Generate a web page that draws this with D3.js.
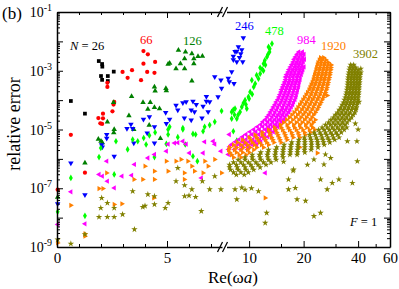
<!DOCTYPE html>
<html>
<head>
<meta charset="utf-8">
<script src="https://cdn.jsdelivr.net/npm/d3@7"></script>
<style>
body { margin: 0; background: #fff; }
text { font-family: "Liberation Serif", "Times New Roman", serif; }
</style>
</head>
<body>
<script>
// each point: [Re(wa), log10(relative error)]
var n26 = [[0.63,-4.03],[1.27,-4.46],[1.90,-2.67],[2.05,-2.77],[2.06,-2.86],[2.00,-3.18],
  [2.05,-3.31],[2.31,-3.18],[2.31,-3.35],[2.58,-3.03]];

var n66 = [[0.03,-7.05],[0.63,-5.18],[1.27,-6.47],[1.88,-4.61],[1.97,-4.79],[2.05,-4.81],
  [2.09,-4.62],[2.09,-4.46],[2.52,-4.38],[2.57,-4.15],[2.60,-4.06],[2.29,-3.41],[2.29,-3.55],
  [2.98,-3.04],[3.21,-3.24],[3.41,-2.98],[3.82,-3.32],[3.93,-2.76],[3.93,-2.33],[4.13,-2.44],
  [4.10,-3.04],[4.43,-3.07],[4.46,-2.70]];

var n126 = [[5.52,-2.30],[5.84,-2.36],[6.13,-2.42],[6.41,-2.51],[6.61,-2.50],[5.80,-2.59],
  [6.22,-2.59],[5.61,-2.76],[6.22,-2.76],[5.41,-2.93],[5.80,-2.93],[6.13,-3.35],[5.05,-2.78],
  [5.12,-2.74],[4.43,-3.55],[4.46,-3.69],[4.95,-3.60],[4.97,-3.68],[3.39,-3.87],[3.91,-4.08],
  [4.24,-4.08],[4.43,-4.25],[4.66,-4.29],[4.13,-4.31],[2.57,-4.08],[3.27,-4.53],[2.29,-4.74],
  [4.19,-4.85],[4.70,-5.30],[1.88,-5.33],[2.58,-5.11],[2.00,-5.40],[2.06,-5.45],[1.27,-6.14],
  [0.03,-7.30],[3.49,-5.00],[2.60,-5.00]];

var n246 = [[9.29,-1.88],[8.72,-2.19],[8.55,-2.34],[8.99,-2.42],[8.18,-2.51],[8.85,-2.55],
  [9.22,-2.70],[8.55,-2.70],[8.01,-3.04],[7.77,-3.38],[8.25,-3.44],[7.17,-3.21],[7.45,-3.32],
  [7.32,-3.89],[6.94,-4.06],[6.79,-4.04],[6.64,-4.21],[6.18,-4.04],[6.33,-4.15],[6.10,-4.34],
  [5.87,-4.06],[5.72,-4.09],[5.41,-4.18],[5.49,-4.34],[5.79,-4.61],[6.25,-4.40],[6.10,-4.68],
  [6.59,-4.61],[6.87,-4.40],[4.94,-4.42],[5.12,-4.65],[4.97,-4.80],[3.93,-4.65],[4.20,-4.57],
  [4.43,-4.91],[3.36,-4.82],[3.44,-4.97],[3.18,-4.97],[2.26,-5.17],[2.06,-5.60],[2.60,-5.91],
  [3.49,-5.46],[4.10,-5.12],[4.43,-5.46],[0.63,-6.14],[1.27,-7.22],[0.03,-7.53],[2.26,-5.30],
  [2.03,-5.52],[7.48,-3.60],[6.79,-3.88],[8.36,-2.35],[9.11,-2.29],[8.18,-2.63],[7.67,-3.26]];

var n478 = [[13.37,-2.08],[12.80,-2.19],[12.96,-2.36],[12.54,-2.53],[12.01,-2.76],[12.30,-2.80],
  [11.51,-3.10],[11.26,-3.27],[10.35,-3.32],[10.80,-3.44],[10.13,-3.72],[9.91,-3.89],[9.50,-4.00],
  [9.11,-4.23],[8.36,-4.29],[8.91,-4.40],[8.01,-4.40],[8.55,-4.63],[8.01,-4.63],[9.71,-4.29],
  [7.48,-4.37],[7.17,-4.74],[6.94,-4.85],[6.71,-4.91],[5.72,-4.95],[5.12,-4.91],[12.70,-2.45],
  [12.20,-2.65],[11.80,-2.95],[11.00,-3.15],[10.60,-3.55],[10.40,-3.80],[10.00,-3.95],[9.30,-4.10],
  [8.70,-4.50],[8.30,-4.50],[9.60,-4.15],[11.50,-2.90],[12.00,-3.00],[13.00,-2.25],
  [5.05,-5.00],[5.05,-5.17],[4.97,-5.49],[4.43,-5.94],[4.05,-5.51],[3.94,-5.29],[3.67,-5.40],
  [3.44,-5.34],[3.21,-5.68],[2.68,-5.40],[1.99,-5.63],[1.91,-5.94],[2.60,-6.53],[0.63,-6.65],
  [1.27,-7.94],[0.03,-7.80],[5.49,-5.26],[5.72,-5.00],[5.83,-5.51],[6.18,-5.15],[6.30,-5.17],
  [6.64,-5.06],[6.18,-5.91],[6.38,-6.08],[8.55,-5.38],[8.18,-5.06],[4.46,-5.10],[4.20,-5.20],
  [8.18,-4.33]];

var n984 = [[18.8,-2.36],[19.7,-2.36],[18.4,-2.44],[19.3,-2.44],[20.1,-2.44],
  [18.0,-2.53],[18.9,-2.53],[19.8,-2.53],[17.7,-2.61],[18.6,-2.61],[19.5,-2.61],[20.2,-2.61],
  [17.5,-2.70],[18.3,-2.70],[19.1,-2.70],[19.9,-2.70],[17.2,-2.79],[18.0,-2.79],[18.8,-2.79],[19.6,-2.79],
  [16.9,-2.87],[17.8,-2.87],[18.6,-2.87],[19.4,-2.87],[20.1,-2.87],
  [16.6,-2.96],[17.4,-2.96],[18.2,-2.96],[19.0,-2.96],[19.8,-2.96],
  [16.4,-3.04],[17.1,-3.04],[17.9,-3.04],[18.8,-3.04],[19.6,-3.04],
  [16.1,-3.13],[16.9,-3.13],[17.7,-3.13],[18.5,-3.13],[19.4,-3.13],
  [15.9,-3.21],[16.6,-3.21],[17.4,-3.21],[18.3,-3.21],[19.1,-3.21],
  [15.9,-3.30],[16.7,-3.30],[17.5,-3.30],[18.3,-3.30],[19.1,-3.30],
  [15.7,-3.38],[16.5,-3.38],[17.3,-3.38],[18.1,-3.38],[18.9,-3.38],
  [15.5,-3.47],[16.3,-3.47],[17.1,-3.47],[17.9,-3.47],[18.8,-3.47],
  [15.3,-3.55],[16.1,-3.55],[16.9,-3.55],[17.8,-3.55],[18.7,-3.55],
  [15.1,-3.64],[15.9,-3.64],[16.7,-3.64],[17.6,-3.64],[18.5,-3.64],
  [15.0,-3.72],[15.8,-3.72],[16.6,-3.72],[17.5,-3.72],[18.4,-3.72],
  [14.8,-3.81],[15.6,-3.81],[16.4,-3.81],[17.3,-3.81],[18.2,-3.81],
  [14.6,-3.89],[15.4,-3.89],[16.2,-3.89],[17.1,-3.89],[18.1,-3.89],
  [14.4,-3.98],[15.2,-3.98],[16.0,-3.98],[16.9,-3.98],[17.9,-3.98],
  [14.1,-4.06],[15.0,-4.06],[15.8,-4.06],[16.7,-4.06],[17.6,-4.06],
  [13.9,-4.15],[14.7,-4.15],[15.6,-4.15],[16.5,-4.15],[17.4,-4.15],
  [13.6,-4.23],[14.4,-4.23],[15.3,-4.23],[16.2,-4.23],[17.1,-4.23],
  [13.4,-4.32],[14.2,-4.32],[15.1,-4.32],[15.9,-4.32],[16.8,-4.32],
  [13.1,-4.40],[13.9,-4.40],[14.8,-4.40],[15.6,-4.40],[16.5,-4.40],
  [12.9,-4.49],[13.7,-4.49],[14.5,-4.49],[15.3,-4.49],[16.2,-4.49],
  [12.6,-4.57],[13.4,-4.57],[14.2,-4.57],[15.0,-4.57],[15.8,-4.57],
  [12.3,-4.66],[13.1,-4.66],[13.9,-4.66],[14.7,-4.66],[15.5,-4.66],
  [11.9,-4.74],[12.7,-4.74],[13.5,-4.74],[14.3,-4.74],[15.1,-4.74],
  [11.6,-4.83],[12.4,-4.83],[13.2,-4.83],[14.0,-4.83],[14.8,-4.83],
  [11.1,-4.91],[11.9,-4.91],[12.8,-4.91],[13.6,-4.91],[14.4,-4.91],
  [10.6,-5.00],[11.4,-5.00],[12.3,-5.00],[13.1,-5.00],[14.0,-5.00],
  [10.1,-5.08],[10.9,-5.08],[11.8,-5.08],[12.7,-5.08],[13.6,-5.08],
  [9.6,-5.17],[10.4,-5.17],[11.3,-5.17],[12.2,-5.17],[13.2,-5.17],
  [9.2,-5.25],[10.0,-5.25],[10.9,-5.25],[11.8,-5.25],[12.7,-5.25],
  [8.8,-5.34],[9.6,-5.34],[10.5,-5.34],[11.4,-5.34],[12.2,-5.34],
  [8.4,-5.42],[9.2,-5.42],[10.0,-5.42],[10.8,-5.42],[11.6,-5.42],
  [8.0,-5.51],[8.8,-5.51],[9.6,-5.51],[10.3,-5.51],[11.0,-5.51],
  [7.8,-5.59],[8.5,-5.59],[9.2,-5.59],[9.9,-5.59],[7.7,-5.68],[8.3,-5.68],[9.0,-5.68],[9.8,-5.68],
  [5.34,-5.46],[5.72,-5.40],[5.87,-5.50],[6.71,-5.42],[7.10,-5.40],[7.17,-5.50],[7.45,-5.74],
  [6.64,-5.80],[6.02,-5.80],[7.67,-5.85],[7.77,-5.17],[12.27,-6.48],[6.56,-6.65],[5.49,-5.45],
  [0.63,-7.12],[1.27,-8.21],[1.91,-6.53],[2.06,-6.59],[2.26,-6.08],[2.29,-6.76],[2.95,-6.59],
  [3.39,-6.56],[3.52,-6.19],[4.13,-5.97],[4.43,-5.85],[4.97,-5.74],[5.05,-5.50],[2.60,-6.99],
  [0.03,-8.23]];

var n1920 = [[24.8,-2.55],[25.8,-2.55],[24.4,-2.63],[25.4,-2.63],[26.6,-2.63],
  [24.0,-2.72],[25.1,-2.72],[26.3,-2.72],[27.4,-2.72],
  [23.8,-2.80],[24.9,-2.80],[26.1,-2.80],[27.3,-2.80],[28.4,-2.80],
  [23.6,-2.89],[24.7,-2.89],[25.9,-2.89],[27.1,-2.89],[28.3,-2.89],
  [23.4,-2.97],[24.5,-2.97],[25.7,-2.97],[26.9,-2.97],[28.2,-2.97],
  [23.2,-3.06],[24.3,-3.06],[25.5,-3.06],[26.7,-3.06],[28.0,-3.06],
  [23.0,-3.14],[24.1,-3.14],[25.3,-3.14],[26.5,-3.14],[27.9,-3.14],
  [22.8,-3.23],[23.9,-3.23],[25.1,-3.23],[26.3,-3.23],[27.7,-3.23],
  [22.6,-3.31],[23.7,-3.31],[24.9,-3.31],[26.1,-3.31],[27.5,-3.31],
  [22.3,-3.40],[23.4,-3.40],[24.6,-3.40],[25.9,-3.40],[27.3,-3.40],
  [22.0,-3.48],[23.1,-3.48],[24.4,-3.48],[25.7,-3.48],[27.1,-3.48],
  [21.7,-3.57],[22.8,-3.57],[24.1,-3.57],[25.4,-3.57],[26.9,-3.57],
  [21.4,-3.65],[22.5,-3.65],[23.8,-3.65],[25.2,-3.65],[26.7,-3.65],
  [21.0,-3.74],[22.2,-3.74],[23.5,-3.74],[24.9,-3.74],[26.4,-3.74],
  [20.6,-3.82],[21.9,-3.82],[23.2,-3.82],[24.6,-3.82],[26.1,-3.82],
  [20.2,-3.91],[21.5,-3.91],[22.8,-3.91],[24.2,-3.91],[25.7,-3.91],
  [19.8,-3.99],[21.1,-3.99],[22.4,-3.99],[23.8,-3.99],[25.3,-3.99],
  [19.4,-4.08],[20.7,-4.08],[22.0,-4.08],[23.4,-4.08],[24.9,-4.08],
  [19.0,-4.16],[20.3,-4.16],[21.6,-4.16],[23.0,-4.16],[24.5,-4.16],
  [18.6,-4.25],[19.9,-4.25],[21.2,-4.25],[22.6,-4.25],[24.1,-4.25],
  [18.2,-4.33],[19.5,-4.33],[20.8,-4.33],[22.2,-4.33],[23.7,-4.33],
  [17.7,-4.42],[19.0,-4.42],[20.3,-4.42],[21.7,-4.42],[23.2,-4.42],
  [17.2,-4.50],[18.5,-4.50],[19.8,-4.50],[21.2,-4.50],[22.7,-4.50],
  [16.7,-4.59],[18.0,-4.59],[19.3,-4.59],[20.7,-4.59],[22.2,-4.59],
  [16.1,-4.67],[17.4,-4.67],[18.8,-4.67],[20.2,-4.67],[21.7,-4.67],[23.2,-4.67],
  [15.5,-4.76],[16.8,-4.76],[18.2,-4.76],[19.6,-4.76],[21.1,-4.76],[22.6,-4.76],
  [14.9,-4.84],[16.2,-4.84],[17.6,-4.84],[19.0,-4.84],[20.5,-4.84],[22.0,-4.84],
  [13.8,-4.93],[15.0,-4.93],[16.4,-4.93],[17.8,-4.93],[19.2,-4.93],[20.8,-4.93],[22.4,-4.93],
  [12.8,-5.01],[14.0,-5.01],[15.3,-5.01],[16.7,-5.01],[18.2,-5.01],[19.8,-5.01],[21.5,-5.01],[23.0,-5.01],
  [11.8,-5.10],[13.0,-5.10],[14.2,-5.10],[15.6,-5.10],[17.1,-5.10],[18.6,-5.10],[20.2,-5.10],[21.8,-5.10],
  [10.8,-5.18],[11.8,-5.18],[13.0,-5.18],[14.4,-5.18],[15.8,-5.18],[17.3,-5.18],[18.8,-5.18],[20.4,-5.18],
  [10.0,-5.27],[11.0,-5.27],[12.1,-5.27],[13.3,-5.27],[14.6,-5.27],[16.0,-5.27],[17.5,-5.27],[19.0,-5.27],
  [9.2,-5.35],[10.2,-5.35],[11.2,-5.35],[12.3,-5.35],[13.5,-5.35],[14.8,-5.35],[16.2,-5.35],
  [8.6,-5.44],[9.5,-5.44],[10.4,-5.44],[11.4,-5.44],[12.5,-5.44],[13.7,-5.44],[15.0,-5.44],
  [8.2,-5.52],[9.0,-5.52],[9.8,-5.52],[10.7,-5.52],[11.7,-5.52],[12.8,-5.52],
  [7.8,-5.61],[8.5,-5.61],[9.3,-5.61],[10.1,-5.61],[11.0,-5.61],[12.0,-5.61],
  [7.7,-5.69],[8.3,-5.69],[9.0,-5.69],[9.8,-5.69],[10.6,-5.69],
  [7.8,-5.78],[8.5,-5.78],[9.2,-5.78],[10.0,-5.78],[8.0,-5.86],[8.8,-5.86],[9.6,-5.86],[8.2,-5.95],[9.0,-5.95],
  [23.8,-5.80],[19.0,-5.60],[27.0,-3.84],
  [5.41,-6.08],[5.64,-6.02],[5.95,-6.08],[5.79,-6.48],[6.25,-6.42],[6.64,-6.48],[6.87,-6.25],
  [7.17,-6.02],[7.48,-6.48],[5.79,-6.70],[6.13,-6.25],[12.27,-7.33],[6.72,-6.08],
  [0.63,-7.58],[1.27,-8.63],[1.91,-7.01],[2.09,-7.01],[2.26,-6.48],[2.60,-7.55],[2.95,-7.53],
  [3.90,-6.70],[4.00,-6.25],[4.43,-6.42],[4.43,-6.70],[4.40,-7.33],[4.97,-6.08],[5.05,-6.42],
  [0.03,-8.86],[3.50,-6.70],[1.27,-8.55]];

var n3902 = [[36.4,-2.80],[37.8,-2.80],[36.0,-2.89],[37.4,-2.89],[38.8,-2.89],
  [35.8,-2.97],[37.2,-2.97],[38.6,-2.97],[40.0,-2.97],
  [35.6,-3.06],[37.0,-3.06],[38.4,-3.06],[39.8,-3.06],[41.4,-3.06],
  [35.4,-3.14],[36.8,-3.14],[38.2,-3.14],[39.6,-3.14],[41.0,-3.14],
  [35.3,-3.23],[36.7,-3.23],[38.1,-3.23],[39.5,-3.23],[40.9,-3.23],
  [35.2,-3.31],[36.6,-3.31],[38.0,-3.31],[39.4,-3.31],[40.8,-3.31],
  [35.1,-3.40],[36.5,-3.40],[37.9,-3.40],[39.3,-3.40],[40.7,-3.40],
  [35.0,-3.48],[36.4,-3.48],[37.8,-3.48],[39.2,-3.48],[40.6,-3.48],
  [34.9,-3.57],[36.3,-3.57],[37.7,-3.57],[39.1,-3.57],[40.5,-3.57],
  [34.7,-3.65],[36.1,-3.65],[37.5,-3.65],[38.9,-3.65],[40.4,-3.65],
  [34.5,-3.74],[35.9,-3.74],[37.3,-3.74],[38.8,-3.74],[40.3,-3.74],
  [34.3,-3.82],[35.7,-3.82],[37.1,-3.82],[38.6,-3.82],[40.2,-3.82],
  [34.0,-3.91],[35.4,-3.91],[36.9,-3.91],[38.4,-3.91],[40.0,-3.91],
  [33.6,-3.99],[35.1,-3.99],[36.6,-3.99],[38.2,-3.99],[39.8,-3.99],
  [33.2,-4.08],[34.7,-4.08],[36.3,-4.08],[37.9,-4.08],[39.6,-4.08],
  [32.7,-4.16],[34.3,-4.16],[35.9,-4.16],[37.6,-4.16],[39.4,-4.16],
  [32.1,-4.25],[33.8,-4.25],[35.5,-4.25],[37.2,-4.25],[39.1,-4.25],
  [31.5,-4.33],[33.2,-4.33],[35.0,-4.33],[36.8,-4.33],[38.8,-4.33],
  [30.8,-4.42],[32.5,-4.42],[34.3,-4.42],[36.2,-4.42],[38.4,-4.42],
  [30.0,-4.50],[31.7,-4.50],[33.5,-4.50],[35.4,-4.50],[37.6,-4.50],
  [29.2,-4.59],[30.9,-4.59],[32.7,-4.59],[34.6,-4.59],[36.8,-4.59],
  [28.3,-4.67],[30.0,-4.67],[31.8,-4.67],[33.7,-4.67],[35.8,-4.67],
  [27.4,-4.76],[29.1,-4.76],[30.9,-4.76],[32.8,-4.76],[34.8,-4.76],
  [26.4,-4.84],[28.1,-4.84],[29.9,-4.84],[31.8,-4.84],[33.8,-4.84],
  [25.3,-4.93],[27.0,-4.93],[28.8,-4.93],[30.7,-4.93],[32.7,-4.93],[34.6,-4.93],
  [24.2,-5.01],[25.9,-5.01],[27.7,-5.01],[29.5,-5.01],[31.5,-5.01],[33.5,-5.01],
  [22.9,-5.10],[24.6,-5.10],[26.4,-5.10],[28.2,-5.10],[30.2,-5.10],[32.3,-5.10],
  [21.6,-5.18],[23.2,-5.18],[25.0,-5.18],[26.8,-5.18],[28.8,-5.18],[30.8,-5.18],
  [20.2,-5.27],[21.8,-5.27],[23.5,-5.27],[25.3,-5.27],[27.2,-5.27],[29.2,-5.27],[31.4,-5.27],
  [18.8,-5.35],[20.3,-5.35],[22.0,-5.35],[23.8,-5.35],[25.6,-5.35],[27.6,-5.35],[29.7,-5.35],
  [17.2,-5.44],[18.7,-5.44],[20.3,-5.44],[22.1,-5.44],[23.9,-5.44],[25.8,-5.44],[27.9,-5.44],
  [15.6,-5.52],[17.0,-5.52],[18.6,-5.52],[20.3,-5.52],[22.1,-5.52],[24.0,-5.52],[26.0,-5.52],
  [14.2,-5.61],[15.5,-5.61],[17.0,-5.61],[18.6,-5.61],[20.3,-5.61],[22.1,-5.61],[24.0,-5.61],
  [12.8,-5.69],[14.0,-5.69],[15.4,-5.69],[16.9,-5.69],[18.5,-5.69],[20.2,-5.69],[22.0,-5.69],
  [11.6,-5.78],[12.7,-5.78],[14.0,-5.78],[15.4,-5.78],[16.9,-5.78],[18.5,-5.78],[20.3,-5.78],
  [10.4,-5.86],[11.4,-5.86],[12.6,-5.86],[13.9,-5.86],[15.3,-5.86],[16.8,-5.86],[18.4,-5.86],
  [9.5,-5.95],[10.4,-5.95],[11.5,-5.95],[12.7,-5.95],[14.0,-5.95],[15.4,-5.95],
  [8.7,-6.03],[9.5,-6.03],[10.5,-6.03],[11.6,-6.03],[12.8,-6.03],[14.1,-6.03],
  [8.2,-6.12],[9.0,-6.12],[9.9,-6.12],[10.9,-6.12],[12.0,-6.12],[13.2,-6.12],
  [7.8,-6.20],[8.5,-6.20],[9.3,-6.20],[10.2,-6.20],[11.2,-6.20],[12.4,-6.20],
  [7.8,-6.29],[8.6,-6.29],[9.5,-6.29],[10.4,-6.29],[11.5,-6.29],
  [7.9,-6.37],[8.7,-6.37],[9.6,-6.37],[10.6,-6.37],[8.2,-6.46],[9.0,-6.46],[9.9,-6.46],[8.5,-6.54],[9.4,-6.54],
  [41.4,-2.93],[40.5,-4.06],[38.8,-4.29],[39.6,-6.08],[40.0,-5.00],[39.4,-5.40],[38.6,-4.80],
  [24.8,-6.70],[28.8,-6.82],[31.3,-6.70],[37.2,-6.82],[27.0,-7.04],[18.4,-7.38],[20.5,-7.43],
  [22.8,-7.95],[24.8,-7.84],[16.5,-7.04],[15.5,-6.10],[17.5,-6.40],[21.0,-6.20],[26.4,-5.85],
  [28.2,-5.97],[34.9,-5.40],[25.9,-6.19],[22.8,-6.02],[17.6,-6.36],[18.0,-6.99],[16.5,-6.70],
  [6.56,-7.78],[8.55,-7.38],[12.5,-7.84],[12.27,-8.18],[5.41,-6.76],[5.49,-6.31],[5.80,-7.27],
  [6.13,-7.04],[6.30,-7.30],[6.61,-6.76],[6.94,-7.04],[7.17,-6.59],[7.45,-7.04],[8.36,-7.04],
  [9.11,-6.98],[9.50,-7.05],[10.3,-7.00],[11.26,-7.10],[5.80,-6.90],[6.00,-7.25],
  [0.63,-8.89],[1.27,-8.57],[1.91,-7.98],[2.29,-7.98],[2.60,-7.98],[2.98,-7.89],[2.60,-7.67],
  [2.29,-7.50],[2.03,-7.33],[1.99,-7.67],[3.44,-7.10],[3.90,-7.64],[4.00,-7.60],[4.43,-7.55],
  [4.43,-7.27],[4.92,-7.67],[4.13,-7.21],[3.52,-8.40],[0.03,-8.75],[5.05,-7.50]];

var seriesNames = ["N = 26", "66", "126", "246", "478", "984", "1920", "3902"];
var seriesColors = ["#000000", "#ff0000", "#008000", "#0000ff", "#00ff00", "#ff00ff", "#ff8000", "#808000"];

var xMajorLeft = [0, 5], xMinorLeft = [1, 2, 3, 4, 6, 7];
var xMajorRight = [10, 20, 40, 60], xMinorRight = [15, 30, 50];

var width = 399, height = 289;
var plot = {left: 57, right: 390, top: 12, bottom: 247};

var svg = d3.select("body").append("svg")
    .attr("width", width)
    .attr("height", height);

// broken x axis: linear 0..7.5, then log 7.5..60
var xLin = d3.scaleLinear().domain([0, 7.5]).range([plot.left, 222]);
var xLog = d3.scaleLog().domain([7.5, 60]).range([226.5, plot.right]);
function x(v) { return v <= 7.5 ? xLin(v) : xLog(v); }

var y = d3.scaleLog().domain([1e-9, 1e-1]).range([plot.bottom, plot.top]);

var decades = d3.range(-9, 0).map(function(e) { return Math.pow(10, e); });
var minorY = [];
d3.range(-9, -1).forEach(function(e) {
  for (var k = 2; k <= 9; k++) minorY.push(k * Math.pow(10, e));
});

// markers
var shapes = [
  {type: d3.symbolSquare, rot: 0, size: 14},
  {type: d3.symbolCircle, rot: 0, size: 14},
  {type: d3.symbolTriangle, rot: 0, size: 13},
  {type: d3.symbolTriangle, rot: 180, size: 13},
  {type: d3.symbolDiamond, rot: 0, size: 13},
  {type: d3.symbolTriangle, rot: -90, size: 12},
  {type: d3.symbolTriangle, rot: 90, size: 12},
  {type: d3.symbolStar, rot: 0, size: 13}
];
var allData = [n26, n66, n126, n246, n478, n984, n1920, n3902];

allData.forEach(function(pts, i) {
  svg.append("g").selectAll("path")
      .data(pts)
    .enter().append("path")
      .attr("d", d3.symbol().type(shapes[i].type).size(shapes[i].size))
      .attr("transform", function(d) {
        return "translate(" + x(d[0]) + "," + y(Math.pow(10, d[1])) + ") rotate(" + shapes[i].rot + ")";
      })
      .style("fill", seriesColors[i]);
});

// axes
function styleAxis(g, keepDomain) {
  g.selectAll(".tick line").attr("stroke", "#000").attr("stroke-width", 1);
  if (keepDomain) g.select(".domain").attr("stroke", "#000").attr("stroke-width", 1.5);
  else g.select(".domain").remove();
  g.attr("font-family", "Liberation Serif, serif");
}

function xAxes(axisFn, ty, labels) {
  [[xLin, xMajorLeft, xMinorLeft], [xLog, xMajorRight, xMinorRight]].forEach(function(p) {
    var g = svg.append("g").attr("transform", "translate(0," + ty + ")");
    g.call(axisFn(p[0]).tickValues(p[1]).tickSize(-6).tickSizeOuter(0).tickPadding(5)
      .tickFormat(labels ? d3.format("d") : ""));
    styleAxis(g, true);
    g.attr("font-size", 15);
    g.selectAll("text").attr("fill", "#000");
    var gm = svg.append("g").attr("transform", "translate(0," + ty + ")");
    gm.call(axisFn(p[0]).tickValues(p[2]).tickSize(-3).tickSizeOuter(0).tickFormat(""));
    styleAxis(gm, false);
  });
}
xAxes(d3.axisBottom, plot.bottom, true);
xAxes(d3.axisTop, plot.top, false);

function yAxis(axisFn, tx) {
  var g = svg.append("g").attr("transform", "translate(" + tx + ",0)");
  g.call(axisFn(y).tickValues(decades).tickSize(-6).tickSizeOuter(0).tickFormat(""));
  styleAxis(g, true);
  var gm = svg.append("g").attr("transform", "translate(" + tx + ",0)");
  gm.call(axisFn(y).tickValues(minorY).tickSize(-3).tickSizeOuter(0).tickFormat(""));
  styleAxis(gm, false);
  return g;
}
yAxis(d3.axisLeft, plot.left);
yAxis(d3.axisRight, plot.right);

// y tick labels 10^-1, 10^-3 ...
[-1, -3, -5, -7, -9].forEach(function(e) {
  var t = svg.append("text")
      .attr("x", 52)
      .attr("y", y(Math.pow(10, e)) + 5)
      .attr("text-anchor", "end")
      .attr("font-size", 14);
  t.append("tspan").text("10");
  t.append("tspan").attr("dy", -6).attr("font-size", 10).text(String(e));
});

// axis break marks
[plot.top, plot.bottom].forEach(function(yy) {
  [220, 225].forEach(function(xx) {
    svg.append("line")
        .attr("x1", xx - 2.5).attr("y1", yy + 5)
        .attr("x2", xx + 2.5).attr("y2", yy - 5)
        .attr("stroke", "#000").attr("stroke-width", 1.2);
  });
});

// labels
svg.append("text").attr("x", 2).attr("y", 19).attr("font-size", 17).text("(b)");

svg.append("text")
    .attr("transform", "translate(20,124) rotate(-90)")
    .attr("text-anchor", "middle")
    .attr("font-size", 18)
    .text("relative error");

var xl = svg.append("text")
    .attr("x", 233).attr("y", 283)
    .attr("text-anchor", "middle")
    .attr("font-size", 17);
xl.append("tspan").text("Re(\u03c9");
xl.append("tspan").attr("font-style", "italic").text("a");
xl.append("tspan").text(")");

var labelPos = [[70, 50], [140, 44], [183, 45], [235, 30], [265, 35], [297, 44], [321, 50], [353, 58]];
seriesNames.forEach(function(name, i) {
  var t = svg.append("text")
      .attr("x", labelPos[i][0]).attr("y", labelPos[i][1])
      .attr("font-size", 12.5)
      .attr("fill", seriesColors[i]);
  if (i === 0) {
    t.append("tspan").attr("font-style", "italic").text("N");
    t.append("tspan").text(" = 26");
  } else {
    t.text(name);
  }
});

var fl = svg.append("text").attr("x", 350).attr("y", 226).attr("font-size", 12.5);
fl.append("tspan").attr("font-style", "italic").text("F");
fl.append("tspan").text(" = 1");
</script>
</body>
</html>
